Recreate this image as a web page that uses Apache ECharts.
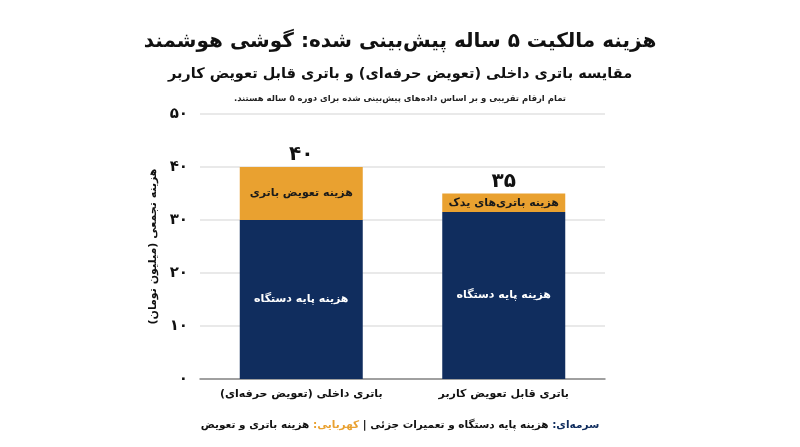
<!DOCTYPE html>
<html>
<head>
<meta charset="utf-8">
<script src="https://cdn.jsdelivr.net/npm/echarts@6/dist/echarts.min.js"></script>
<style>
	html, body { margin: 0; padding: 0; background: #fff; }
	#chart { width: 800px; height: 447px; }
</style>
</head>
<body>
<div id="chart"></div>
<script>
const RLM = '\u200F';

// data
const categories = [ 'باتری داخلی (تعویض حرفه‌ای)', 'باتری قابل تعویض کاربر' ];
const baseCost = [ 30, 31.5 ];
const batteryCost = [ 10, 3.5 ];
const baseLabels = [ 'هزینه پایه دستگاه', 'هزینه پایه دستگاه' ];
const batteryLabels = [ 'هزینه تعویض باتری', 'هزینه باتری‌های یدک' ];
const yTicks = [ 0, 10, 20, 30, 40, 50 ];

const NAVY = '#102D5E';
const AMBER = '#E9A130';
const FONT = 'DejaVu Sans';

// ارقام فارسی
const fa = function ( n ) {
	return String( n ).replace( /\d/g, d => '۰۱۲۳۴۵۶۷۸۹'[d] );
};

const totals = baseCost.map( ( v, i ) => v + batteryCost[i] );

// راهنمای پایین: قطعه‌ها از چپ به راست چیده می‌شوند
const footer =
	'{t|' + RLM + 'هزینه باتری و تعویض' + RLM + '}' +
	'{t| }' +
	'{a|' + RLM + 'کهربایی:' + RLM + '}' +
	'{t|' + RLM + ' هزینه پایه دستگاه و تعمیرات جزئی | ' + RLM + '}' +
	'{n|' + RLM + 'سرمه‌ای:' + RLM + '}';

const chart = echarts.init( document.getElementById( 'chart' ) );
const option = {
	backgroundColor: '#fff',
	textStyle: { fontFamily: FONT },
	title: [
		{
			text: 'هزینه مالکیت ۵ ساله پیش‌بینی شده: گوشی هوشمند',
			left: 'center', top: 27,
			textStyle: { fontFamily: FONT, fontSize: 20, fontWeight: 'bold', color: '#111' }
		},
		{
			text: RLM + 'مقایسه باتری داخلی (تعویض حرفه‌ای) و باتری قابل تعویض کاربر' + RLM,
			left: 'center', top: 62,
			textStyle: { fontFamily: FONT, fontSize: 14.5, fontWeight: 'bold', color: '#111' }
		},
		{
			text: 'تمام ارقام تقریبی و بر اساس داده‌های پیش‌بینی شده برای دوره ۵ ساله هستند.' + RLM,
			left: 'center', top: 89,
			textStyle: { fontFamily: FONT, fontSize: 8.5, fontWeight: 'bold', color: '#222' }
		},
		{
			text: footer,
			left: 'center', top: 415,
			textStyle: {
				fontFamily: FONT, fontSize: 10.5, fontWeight: 'bold',
				rich: {
					t: { fontFamily: FONT, fontSize: 10.5, fontWeight: 'bold', color: '#111' },
					a: { fontFamily: FONT, fontSize: 10.5, fontWeight: 'bold', color: AMBER },
					n: { fontFamily: FONT, fontSize: 10.5, fontWeight: 'bold', color: NAVY }
				}
			}
		}
	],
	grid: { left: 200, right: 195, top: 114, bottom: 68 },
	xAxis: {
		type: 'category',
		data: categories,
		axisTick: { show: false },
		axisLine: { lineStyle: { color: '#888', width: 1.5 } },
		axisLabel: {
			interval: 0,
			fontFamily: FONT, fontSize: 11, fontWeight: 'bold', color: '#111', margin: 10,
			formatter: v => RLM + v + RLM
		}
	},
	yAxis: {
		type: 'value',
		min: 0, max: 50, interval: 10,
		name: RLM + 'هزینه تجمعی (میلیون تومان)' + RLM,
		nameLocation: 'middle',
		nameGap: 40,
		nameTextStyle: { fontFamily: FONT, fontSize: 11, fontWeight: 'bold', color: '#111' },
		axisLine: { show: false },
		axisTick: { show: false },
		splitLine: { lineStyle: { color: '#e2e2e2', width: 1.5 } },
		axisLabel: {
			fontFamily: FONT, fontSize: 15, fontWeight: 'bold', color: '#111', margin: 12,
			formatter: v => yTicks.indexOf( v ) >= 0 ? fa( v ) : ''
		}
	},
	series: [
		{
			name: 'base',
			type: 'bar',
			stack: 'cost',
			barWidth: 123,
			data: baseCost,
			itemStyle: { color: NAVY },
			label: {
				show: true, position: 'inside',
				fontFamily: FONT, fontSize: 11, fontWeight: 'bold', color: '#fff',
				formatter: p => baseLabels[p.dataIndex]
			}
		},
		{
			name: 'battery',
			type: 'bar',
			stack: 'cost',
			barWidth: 123,
			data: batteryCost,
			itemStyle: { color: AMBER },
			label: {
				show: true, position: 'inside',
				fontFamily: FONT, fontSize: 11, fontWeight: 'bold', color: '#1a1a1a',
				formatter: p => batteryLabels[p.dataIndex]
			}
		},
		{
			name: 'total',
			type: 'bar',
			stack: 'cost',
			barWidth: 123,
			data: totals.map( () => 0 ),
			itemStyle: { color: 'transparent' },
			label: {
				show: true, position: 'top', distance: 2,
				fontFamily: FONT, fontSize: 20, fontWeight: 'bold', color: '#111',
				formatter: p => fa( totals[p.dataIndex] )
			}
		}
	]
};
chart.setOption( option );
</script>
</body>
</html>
